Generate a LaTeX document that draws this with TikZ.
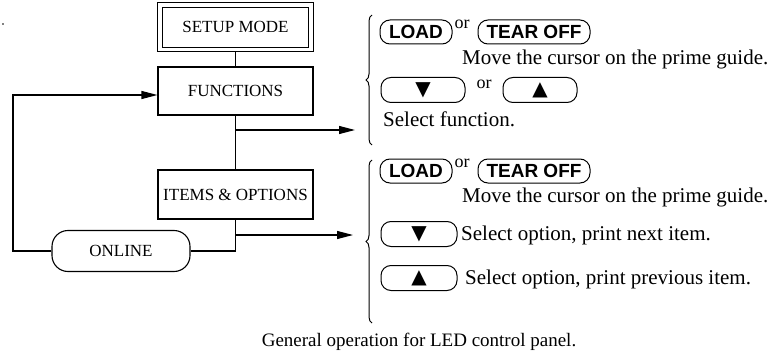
\documentclass[tikz,border=0pt]{standalone}
\usepackage{fontspec}
\setmainfont{Liberation Serif}
\newfontfamily\btnfont{Liberation Sans}
\newfontfamily\symfont{DejaVu Sans}
\usetikzlibrary{arrows.meta,decorations.pathreplacing,calc}
\begin{document}
\begin{tikzpicture}[x=1pt,y=-1pt,
  every node/.style={inner sep=0pt},
  line/.style={line width=1.1pt},
  arr/.style={line width=1.1pt,-{Triangle[length=16pt,width=8pt]}},
  boxnode/.style={draw,line width=1.1pt,minimum width=155pt,minimum height=48pt,font=\fontsize{17}{19}\selectfont},
  setupnode/.style={draw,line width=0.9pt,minimum width=146pt,minimum height=40pt,font=\fontsize{17}{19}\selectfont},
  onlinenode/.style={draw,line width=1.1pt,rounded corners=16pt,minimum width=138pt,minimum height=41pt,font=\fontsize{17}{19}\selectfont},
  btn/.style={draw,line width=1pt,rounded corners=10pt,minimum height=24pt,font=\btnfont\bfseries\fontsize{19}{19}\selectfont},
  arrbtn/.style={draw,line width=1pt,rounded corners=10pt,minimum width=76pt,minimum height=25pt,font=\symfont\fontsize{20}{20}\selectfont},
  ortext/.style={font=\fontsize{18}{18}\selectfont},
  desc/.style={anchor=west,font=\fontsize{21}{23}\selectfont},
  brc/.style={line width=1pt,decorate,decoration={brace,amplitude=6pt}}
]
\useasboundingbox (0,0) rectangle (777,353);
\fill (3,24) circle (0.9pt);
% left flow
\node[setupnode] (setup) at (235.5,27) {SETUP MODE};
\draw[line width=0.9pt] ($(setup.south west)+(-4.5,4.5)$) rectangle ($(setup.north east)+(4.5,-4.5)$);
\node[boxnode] (func) at (235.5,91) {FUNCTIONS};
\node[boxnode,minimum height=49pt] (items) at (235.5,194.5) {ITEMS \& OPTIONS};
\node[onlinenode] (online) at (121,251) {ONLINE};
\coordinate (lc) at (13,251);
\coordinate (b1) at (235.5,130);
\coordinate (t1) at (355,130);
\coordinate (b2) at (235.5,235);
\coordinate (t2) at (353,235);
\draw[line] ($(setup.south)+(0,4.5)$) -- (func);
\draw[line] (func) -- (items);
\draw[line] (items.south) |- (online.east);
\draw[arr] (online.west) -- (lc) |- ($(func.west)+(0,4)$);
\draw[arr] (b1) -- (t1);
\draw[arr] (b2) -- (t2);
% group 1
\coordinate (br1b) at (372,145);
\coordinate (br1t) at (372,15);
\draw[brc] (br1b) -- (br1t);
\node[btn,minimum width=72pt] (load1) at (416,32) {LOAD};
\node[ortext] (or1) at (462,24) {or};
\node[btn,minimum width=112pt] (tear1) at (534,32) {TEAR OFF};
\node[desc] (move1) at (462,59) {Move the cursor on the prime guide.};
\node[arrbtn,minimum width=84pt] (down1) at (423,90) {▼};
\node[ortext] (or2) at (484,84) {or};
\node[arrbtn,minimum width=74pt] (up1) at (540,90) {▲};
\node[desc] (sel1) at (383,119) {Select function.};
% group 2
\coordinate (br2b) at (372,323);
\coordinate (br2t) at (372,160);
\draw[brc] (br2b) -- (br2t);
\node[btn,minimum width=72pt] (load2) at (416,171) {LOAD};
\node[ortext] (or3) at (462,163) {or};
\node[btn,minimum width=112pt] (tear2) at (534,171) {TEAR OFF};
\node[desc] (move2) at (462,197) {Move the cursor on the prime guide.};
\node[arrbtn] (down2) at (419,234) {▼};
\node[desc] (sel2) at (461,235) {Select option, print next item.};
\node[arrbtn] (up2) at (419,278) {▲};
\node[desc] (sel3) at (465,279) {Select option, print previous item.};
% caption
\node[font=\fontsize{19}{21}\selectfont] (cap) at (419,342) {General operation for LED control panel.};
\end{tikzpicture}
\end{document}
